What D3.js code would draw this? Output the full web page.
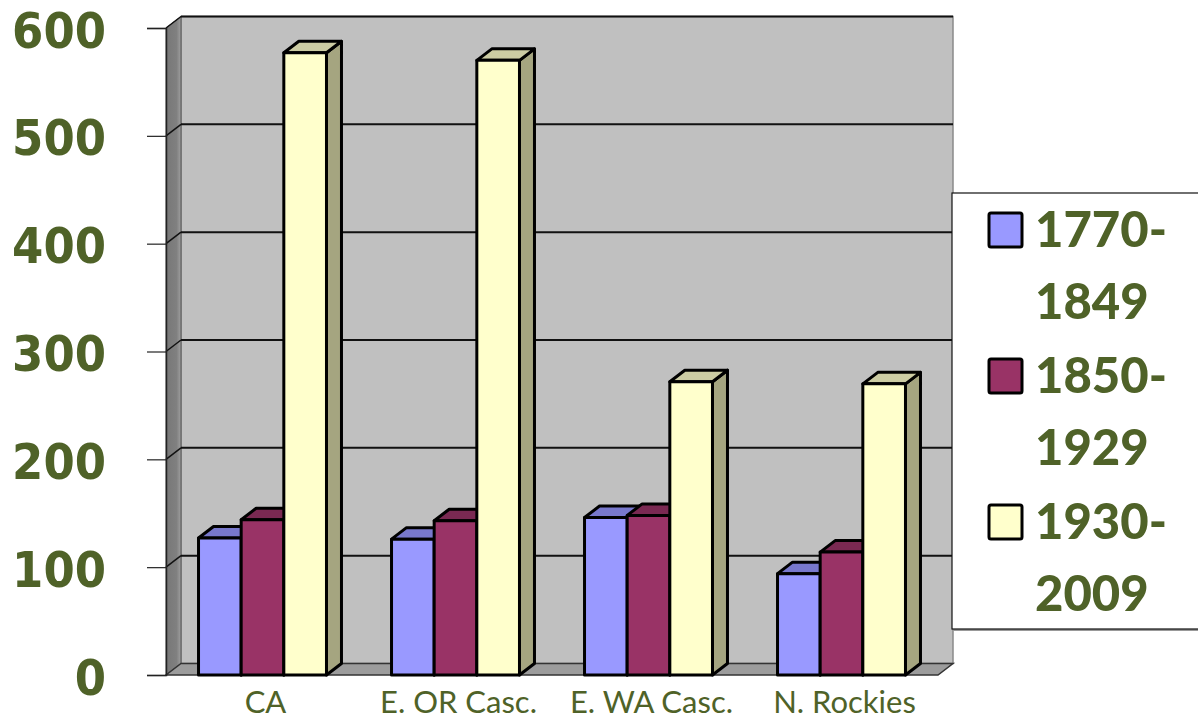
<!DOCTYPE html>
<html>
<head>
<meta charset="utf-8">
<script src="https://cdn.jsdelivr.net/npm/d3@7"></script>
<style>
  html, body { margin: 0; padding: 0; background: #fff; }
  svg { display: block; }
</style>
</head>
<body>
<div id="chart"></div>
<script>
const categories = ['CA', 'E. OR Casc.', 'E. WA Casc.', 'N. Rockies']
const seriesNames = ['1770-1849', '1850-1929', '1930-2009']
const legendLines = [['1770-', '1849'], ['1850-', '1929'], ['1930-', '2009']]
const s1770 = [127, 126, 146, 94]
const s1850 = [144, 143, 148, 114]
const s1930 = [577, 570, 272, 270]
const yTicks = [0, 100, 200, 300, 400, 500, 600]

const W = 1198, H = 719
const DX = 15, DY = -11.5   // 3d depth offset
const green = '#4F6228'

const colors = {
  front: ['#9999FF', '#993366', '#FFFFCC'],
  top:   ['#7878CC', '#7A2952', '#CCCCA3'],
  side:  ['#6B6BB3', '#6B2447', '#A5A580']
}

const svg = d3.select('#chart').append('svg')
  .attr('width', W).attr('height', H)

const x0 = d3.scaleBand().domain(categories).range([166, 938])
  .paddingInner(0.337).paddingOuter(0.1685)
const x1 = d3.scaleBand().domain(seriesNames).range([0, x0.bandwidth()])
const y = d3.scaleLinear().domain([0, 600]).range([675, 28])

const pts = p => p.map(d => d.join(',')).join(' ')
const left = x0.range()[0], right = x0.range()[1]

// back wall
svg.append('rect')
  .attr('x', left + DX).attr('y', y(600) + DY)
  .attr('width', right - left).attr('height', y(0) - y(600))
  .attr('fill', '#C0C0C0').attr('stroke', '#8a8a8a').attr('stroke-width', 1.5)

// left side wall
const grad = svg.append('defs').append('linearGradient').attr('id', 'lw')
grad.append('stop').attr('offset', '0%').attr('stop-color', '#777')
grad.append('stop').attr('offset', '70%').attr('stop-color', '#808080')
grad.append('stop').attr('offset', '100%').attr('stop-color', '#a0a0a0')
svg.append('polygon')
  .attr('points', pts([[left, y(600)], [left + DX, y(600) + DY], [left + DX, y(0) + DY], [left, y(0)]]))
  .attr('fill', 'url(#lw)').attr('stroke', '#555').attr('stroke-width', 1)

// floor
svg.append('polygon')
  .attr('points', pts([[left, y(0)], [right, y(0)], [right + DX, y(0) + DY], [left + DX, y(0) + DY]]))
  .attr('fill', '#9C9C9C').attr('stroke', '#333').attr('stroke-width', 1.5)

// gridlines on back wall and left wall
const grid = svg.append('g')
yTicks.filter(t => t > 0).forEach(t => {
  grid.append('line')
    .attr('x1', left + DX).attr('x2', right + DX)
    .attr('y1', y(t) + DY).attr('y2', y(t) + DY)
    .attr('stroke', '#111').attr('stroke-width', 2)
  grid.append('line')
    .attr('x1', left).attr('x2', left + DX)
    .attr('y1', y(t)).attr('y2', y(t) + DY)
    .attr('stroke', '#111').attr('stroke-width', 1.5)
})

// y axis
const yAxis = d3.axisLeft(y).tickValues(yTicks).tickSize(19).tickPadding(42)
const ga = svg.append('g').attr('transform', `translate(${left},0)`).call(yAxis)
ga.select('.domain').attr('stroke', '#222').attr('stroke-width', 1.5)
ga.selectAll('.tick line').attr('stroke', '#222').attr('stroke-width', 1.2)
ga.selectAll('.tick text')
  .attr('fill', green)
  .style('font-family', '"DejaVu Sans Condensed", "DejaVu Sans", sans-serif')
  .style('font-weight', 'bold')
  .style('font-size', '50px')
  .attr('x', 106 - left).attr('dy', null).attr('y', 19)

// bars
const allSeries = [s1770, s1850, s1930]
const bars = svg.append('g')
categories.forEach((c, ci) => {
  seriesNames.forEach((s, si) => {
    const v = allSeries[si][ci]
    const xa = x0(c) + x1(s), xb = xa + x1.bandwidth()
    const yt = y(v), yb = y(0)
    const g = bars.append('g')
      .attr('stroke', '#000').attr('stroke-width', 3).attr('stroke-linejoin', 'round')
    g.append('polygon')
      .attr('points', pts([[xb, yt], [xb + DX, yt + DY], [xb + DX, yb + DY], [xb, yb]]))
      .attr('fill', colors.side[si])
    g.append('polygon')
      .attr('points', pts([[xa, yt], [xa + DX, yt + DY], [xb + DX, yt + DY], [xb, yt]]))
      .attr('fill', colors.top[si])
    g.append('rect')
      .attr('x', xa).attr('y', yt).attr('width', xb - xa).attr('height', yb - yt)
      .attr('fill', colors.front[si])
  })
})

// category labels
svg.append('g').selectAll('text').data(categories).join('text')
  .attr('x', d => x0(d) + x0.bandwidth() / 2 + 3)
  .attr('y', 713)
  .attr('text-anchor', 'middle')
  .attr('fill', green)
  .style('font-family', 'Lato, "Open Sans", sans-serif')
  .style('font-size', '31px')
  .text(d => d)

// legend
const lg = svg.append('g')
lg.append('rect')
  .attr('x', 953).attr('y', 195).attr('width', 260).attr('height', 436)
  .attr('fill', '#999')
lg.append('rect')
  .attr('x', 952).attr('y', 193).attr('width', 260).attr('height', 436)
  .attr('fill', '#fff').attr('stroke', '#111').attr('stroke-width', 1.2)
seriesNames.forEach((s, i) => {
  const top = 213 + i * 146
  lg.append('rect')
    .attr('x', 989).attr('y', top).attr('width', 33).attr('height', 34)
    .attr('rx', 2)
    .attr('fill', colors.front[i]).attr('stroke', '#000').attr('stroke-width', 3)
  legendLines[i].forEach((t, j) => {
    lg.append('text')
      .attr('x', 1035).attr('y', top + 34 + j * 72)
      .attr('fill', green)
      .style('font-family', 'Lato, "Open Sans", sans-serif')
      .style('font-weight', 900)
      .style('font-size', '49px')
      .text(t)
  })
})
</script>
</body>
</html>
